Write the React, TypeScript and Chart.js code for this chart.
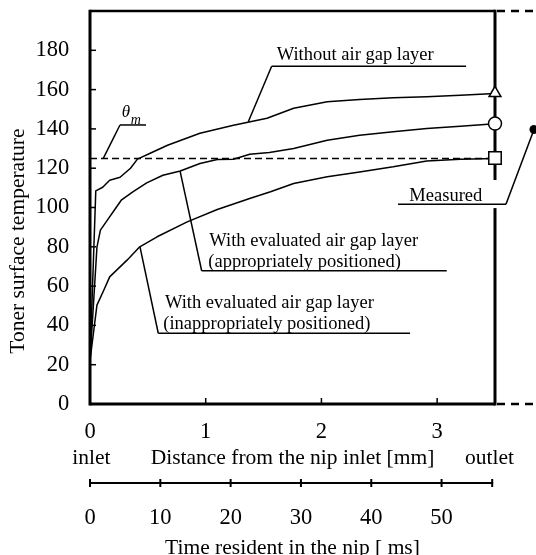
import React, { useEffect, useRef } from 'react';
import { Chart, registerables } from 'chart.js';

Chart.register(...registerables);

const FONT = '"Liberation Serif", "Times New Roman", Times, serif';

// ---- Axes ----
const distanceMin = 0;
const distanceMax = 3.5;
const distanceTicks = [0, 1, 2, 3];
const timeMax = 57.6;
const timeTicks = [0, 10, 20, 30, 40, 50];
const timeEnd = 57.2;
const tempMin = 0;
const tempMax = 200;
const tempTicks = [0, 20, 40, 60, 80, 100, 120, 140, 160, 180];

// ---- Series: without air gap layer ----
const withoutMm = [0, 0.05, 0.11, 0.17, 0.26, 0.35, 0.41, 0.52, 0.67, 0.95, 1.24, 1.53, 1.76, 2.05, 2.33, 2.62, 2.91, 3.2, 3.5];
const withoutTemp = [22, 108.5, 110.3, 113.9, 115.4, 120, 124.6, 127.6, 131.7, 137.8, 141.9, 145.4, 150.5, 153.8, 155, 155.8, 156.4, 157.1, 158];

// ---- Series: evaluated air gap layer, appropriately positioned ----
const appropriateMm = [0, 0.06, 0.09, 0.15, 0.22, 0.27, 0.37, 0.49, 0.63, 0.78, 0.95, 1.1, 1.24, 1.38, 1.55, 1.76, 2.05, 2.33, 2.62, 2.91, 3.2, 3.5];
const appropriateTemp = [22, 79.8, 88.5, 93.6, 99.5, 103.7, 108, 112.5, 116.4, 118.6, 122.4, 124.4, 124.6, 127.1, 128, 130, 134.2, 136.8, 138.5, 140.2, 141.4, 142.6];

// ---- Series: evaluated air gap layer, inappropriately positioned ----
const inappropriateMm = [0, 0.06, 0.12, 0.17, 0.32, 0.43, 0.58, 0.84, 1.1, 1.38, 1.56, 1.76, 2.05, 2.33, 2.62, 2.91, 3.2, 3.5];
const inappropriateTemp = [22, 50.3, 58, 64.7, 73.2, 80, 85.1, 92.7, 99, 104.6, 108, 112.2, 115.6, 118.1, 120.7, 123.7, 124.6, 125];

// ---- Melting temperature and measured values at the outlet ----
const thetaM = 125;
const measuredMm = 3.5;
const measuredTemp = [158.2, 142.7, 125.2];
const measuredStyles = ['triangle', 'circle', 'rect'];

function seg(ctx: CanvasRenderingContext2D, x1: number, y1: number, x2: number, y2: number, w: number, dash: number[] = []) {
  ctx.beginPath();
  ctx.setLineDash(dash);
  ctx.lineWidth = w;
  ctx.moveTo(x1, y1);
  ctx.lineTo(x2, y2);
  ctx.stroke();
  ctx.setLineDash([]);
}

const framePlugin = {
  id: 'frame',
  beforeDatasetsDraw(chart: any) {
    const { ctx, chartArea: a, scales } = chart;
    const X = (v: number) => scales.x.getPixelForValue(v);
    const Y = (v: number) => scales.y.getPixelForValue(v);
    const T = (v: number) => scales.x2.getPixelForValue(v);
    ctx.save();
    ctx.strokeStyle = '#000';
    ctx.lineCap = 'butt';
    // frame
    seg(ctx, a.left, a.top - 1.3, a.left, a.bottom + 1.5, 3);
    seg(ctx, a.left, a.top, a.right, a.top, 2.5);
    seg(ctx, a.left, a.bottom, a.right, a.bottom, 3);
    seg(ctx, a.right, a.top - 1.3, a.right, Y(114), 3);
    seg(ctx, a.right, Y(99.7), a.right, a.bottom + 1.5, 3);
    // dashed extensions
    seg(ctx, a.right + 2, a.top, chart.width, a.top, 2.5, [8, 6]);
    seg(ctx, a.right + 2, a.bottom, chart.width, a.bottom, 2.5, [8, 6]);
    // inner ticks
    tempTicks.forEach((v) => { if (v > tempMin) seg(ctx, a.left, Y(v), a.left + 6, Y(v), 1.5); });
    distanceTicks.forEach((v) => { if (v > distanceMin) seg(ctx, X(v), a.bottom, X(v), a.bottom - 6, 1.5); });
    // time axis line
    const ty = scales.x2.top + 13;
    seg(ctx, T(0) - 1, ty, T(timeEnd) + 1, ty, 2);
    [...timeTicks, timeEnd].forEach((v) => seg(ctx, T(v), ty - 4, T(v), ty + 4, 2));
    ctx.restore();
  },
};

type Callout = {
  lines: [string, number, number][];
  underline: [number, number, number];
  leader: [number, number, number, number];
  dot?: [number, number];
};

const callouts: Callout[] = [
  { lines: [['Without air gap layer', 1.614, 175.2]], underline: [1.57, 3.25, 171.9], leader: [1.57, 171.9, 1.368, 143.6] },
  {
    lines: [['With evaluated air gap layer', 1.031, 80.3], ['(appropriately positioned)', 1.022, 69.9]],
    underline: [0.965, 3.083, 67.8], leader: [0.965, 67.8, 0.778, 118.6],
  },
  {
    lines: [['With evaluated air gap layer', 0.648, 48.8], ['(inappropriately positioned)', 0.633, 38.0]],
    underline: [0.59, 2.766, 36.0], leader: [0.59, 36.0, 0.432, 80.0],
  },
  { lines: [['Measured', 2.76, 103.2]], underline: [2.662, 3.595, 101.6], leader: [3.595, 101.6, 3.837, 139.7], dot: [3.837, 139.7] },
];

const annotationPlugin = {
  id: 'annotations',
  afterDraw(chart: any) {
    const { ctx, scales } = chart;
    const X = (v: number) => scales.x.getPixelForValue(v);
    const Y = (v: number) => scales.y.getPixelForValue(v);
    ctx.save();
    ctx.strokeStyle = '#000';
    ctx.fillStyle = '#000';
    ctx.textAlign = 'left';
    ctx.textBaseline = 'alphabetic';
    ctx.font = `18.5px ${FONT}`;
    callouts.forEach((c) => {
      c.lines.forEach(([t, x, y]) => ctx.fillText(t, X(x), Y(y)));
      seg(ctx, X(c.underline[0]), Y(c.underline[2]), X(c.underline[1]), Y(c.underline[2]), 1.5);
      seg(ctx, X(c.leader[0]), Y(c.leader[1]), X(c.leader[2]), Y(c.leader[3]), 1.5);
      if (c.dot) {
        ctx.beginPath();
        ctx.arc(X(c.dot[0]), Y(c.dot[1]), 4.5, 0, Math.PI * 2);
        ctx.fill();
      }
    });
    // theta_m label
    ctx.font = `italic 17px ${FONT}`;
    ctx.fillText('θ', X(0.274), Y(146.2));
    ctx.font = `italic 14px ${FONT}`;
    ctx.fillText('m', X(0.352), Y(142.7));
    seg(ctx, X(0.259), Y(142.0), X(0.484), Y(142.0), 1.5);
    seg(ctx, X(0.259), Y(142.0), X(0.115), Y(thetaM), 1.5);
    // inlet / outlet
    ctx.font = `21.5px ${FONT}`;
    ctx.textAlign = 'center';
    ctx.textBaseline = 'middle';
    const rowY = scales.x.bottom - 12;
    ctx.fillText('inlet', X(distanceMin) + 1.3, rowY);
    ctx.fillText('outlet', X(distanceMax) - 5.4, rowY);
    // y title
    ctx.translate(18, Y(82.9));
    ctx.rotate(-Math.PI / 2);
    ctx.fillText('Toner surface temperature', 0, 0);
    ctx.restore();
  },
};

export default function App() {
  const ref = useRef<HTMLCanvasElement>(null);
  useEffect(() => {
    const canvas = ref.current;
    if (!canvas) return;
    const pts = (xs: number[], ys: number[]) => xs.map((x, i) => ({ x, y: ys[i] }));
    const curve = (label: string, xs: number[], ys: number[]) => ({
      label,
      data: pts(xs, ys),
      borderColor: '#000',
      borderWidth: 1.5,
      pointRadius: 0,
      tension: 0,
      fill: false,
      borderJoinStyle: 'round',
      order: 2,
    });
    const tickFont = { family: FONT, size: 22.5 };
    const titleFont = { family: FONT, size: 21.5 };
    const noPadX = (s: any, h: number) => { s.height = h; s.paddingLeft = 0; s.paddingRight = 0; s.paddingTop = 0; s.paddingBottom = 0; };
    const chart = new Chart(canvas, {
      type: 'line',
      data: {
        datasets: [
          {
            label: 'Measured',
            data: measuredTemp.map((t) => ({ x: measuredMm, y: t })),
            showLine: false,
            pointStyle: measuredStyles,
            pointRadius: [6.8, 6.5, 8.8],
            pointBorderWidth: 1.5,
            pointBackgroundColor: '#fff',
            pointBorderColor: '#000',
            clip: false,
            order: 0,
          } as any,
          {
            label: 'θm',
            data: [{ x: distanceMin, y: thetaM }, { x: distanceMax, y: thetaM }],
            borderColor: '#000',
            borderWidth: 1.5,
            borderDash: [7, 4],
            pointRadius: 0,
            order: 1,
          } as any,
          curve('Without air gap layer', withoutMm, withoutTemp) as any,
          curve('Appropriately positioned', appropriateMm, appropriateTemp) as any,
          curve('Inappropriately positioned', inappropriateMm, inappropriateTemp) as any,
        ],
      },
      options: {
        responsive: false,
        animation: false,
        devicePixelRatio: 1,
        layout: { padding: { top: 11, right: 41, left: 0, bottom: 0 } },
        plugins: { legend: { display: false }, tooltip: { enabled: false } },
        scales: {
          x: {
            type: 'linear',
            position: 'bottom',
            weight: 0,
            min: distanceMin,
            max: distanceMax,
            afterBuildTicks: (s: any) => { s.ticks = distanceTicks.map((v) => ({ value: v })); },
            afterFit: (s: any) => noPadX(s, 66),
            grid: { display: false, drawTicks: false },
            border: { display: false },
            ticks: { autoSkip: false, maxRotation: 0, padding: 14.7, color: '#000', font: tickFont },
            title: { display: true, text: 'Distance from the nip inlet [mm]', color: '#000', font: titleFont, padding: { top: 0, bottom: -1 } },
          },
          x2: {
            type: 'linear',
            position: 'bottom',
            weight: 1,
            min: 0,
            max: timeMax,
            afterBuildTicks: (s: any) => { s.ticks = timeTicks.map((v) => ({ value: v })); },
            afterFit: (s: any) => noPadX(s, 85),
            grid: { display: false, drawTicks: false },
            border: { display: false },
            ticks: { autoSkip: false, maxRotation: 0, padding: 34.2, color: '#000', font: tickFont },
            title: { display: true, text: 'Time resident in the nip [ ms]', color: '#000', font: titleFont, padding: { top: 0, bottom: -6 } },
          },
          y: {
            type: 'linear',
            min: tempMin,
            max: tempMax,
            afterBuildTicks: (s: any) => { s.ticks = tempTicks.map((v) => ({ value: v })); },
            afterFit: (s: any) => { s.width = 90; s.paddingTop = 0; s.paddingBottom = 0; s.paddingLeft = 0; s.paddingRight = 0; },
            grid: { display: false, drawTicks: false },
            border: { display: false },
            ticks: { autoSkip: false, padding: 20.7, color: '#000', font: tickFont },
          },
        },
      } as any,
      plugins: [framePlugin, annotationPlugin],
    });
    return () => chart.destroy();
  }, []);
  return (
    <div style={{ position: 'fixed', left: 0, top: 0, width: 536, height: 555, background: '#fff' }}>
      <canvas ref={ref} width={536} height={555} style={{ display: 'block', width: 536, height: 555 }} />
    </div>
  );
}
